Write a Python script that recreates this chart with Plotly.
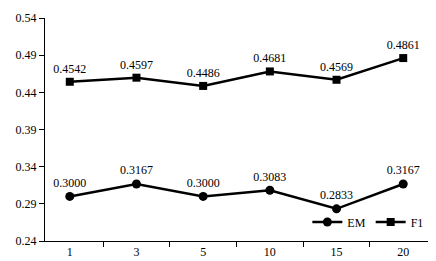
import plotly.graph_objects as go

categories = ["1", "3", "5", "10", "15", "20"]
em_values = [0.3000, 0.3167, 0.3000, 0.3083, 0.2833, 0.3167]
f1_values = [0.4542, 0.4597, 0.4486, 0.4681, 0.4569, 0.4861]
y_ticks = [0.24, 0.29, 0.34, 0.39, 0.44, 0.49, 0.54]

font = dict(family="Liberation Serif", size=12, color="black")

fig = go.Figure()
fig.add_trace(go.Scatter(
    x=categories, y=em_values, name="EM", mode="lines+markers+text",
    line=dict(color="black", width=2.5),
    marker=dict(symbol="circle", size=9, color="black"),
    text=[f"{v:.4f}" for v in em_values], textposition="top center",
    textfont=font,
))
fig.add_trace(go.Scatter(
    x=categories, y=f1_values, name="F1", mode="lines+markers+text",
    line=dict(color="black", width=2.5),
    marker=dict(symbol="square", size=8, color="black"),
    text=[f"{v:.4f}" for v in f1_values], textposition="top center",
    textfont=font,
))

fig.update_layout(
    width=436, height=261,
    margin=dict(l=37, r=16, t=10, b=28, autoexpand=False),
    paper_bgcolor="white", plot_bgcolor="white",
    font=font,
    showlegend=True,
    legend=dict(orientation="h", x=0.685, y=0.085, xanchor="left", yanchor="middle",
                bgcolor="rgba(0,0,0,0)", font=font, itemwidth=30),
    xaxis=dict(type="category", tickson="boundaries", ticks="outside", ticklen=5,
               tickcolor="black", showline=True, linecolor="black", linewidth=1,
               showgrid=False, zeroline=False, tickfont=font),
    yaxis=dict(range=[0.24, 0.54], tickvals=y_ticks, ticktext=[f"{v:.2f}" for v in y_ticks],
               ticks="outside", ticklen=5, tickcolor="black", showline=True,
               linecolor="black", linewidth=1, showgrid=False, zeroline=False,
               tickfont=font),
)

fig.write_html("out.html")
